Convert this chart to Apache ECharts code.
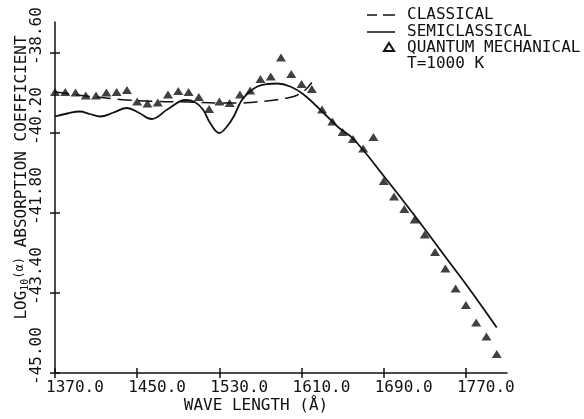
<!DOCTYPE html>
<html>
<head>
<meta charset="utf-8">
<script src="https://cdn.jsdelivr.net/npm/echarts@6/dist/echarts.min.js"></script>
<style>
  html, body { margin: 0; padding: 0; background: #fff; }
  #chart { width: 584px; height: 419px; }
</style>
</head>
<body>
<div id="chart"></div>
<script>
// wave length ticks (Å) and log10 absorption ticks
const xTicks = [1370, 1450, 1530, 1610, 1690, 1770];
const yTicks = [-45.0, -43.4, -41.8, -40.2, -38.6];

// quantum mechanical points, every 10 Å
const qmWave = [1370, 1380, 1390, 1400, 1410, 1420, 1430, 1440, 1450, 1460,
  1470, 1480, 1490, 1500, 1510, 1520, 1530, 1540, 1550, 1560,
  1570, 1580, 1590, 1600, 1610, 1620, 1630, 1640, 1650, 1660,
  1670, 1680, 1690, 1700, 1710, 1720, 1730, 1740, 1750, 1760,
  1770, 1780, 1790, 1800];
const qmValue = [-39.38, -39.38, -39.39, -39.45, -39.45, -39.39, -39.38, -39.34, -39.57, -39.61,
  -39.59, -39.43, -39.36, -39.38, -39.48, -39.72, -39.57, -39.60, -39.43, -39.35,
  -39.12, -39.07, -38.69, -39.02, -39.22, -39.32, -39.73, -39.97, -40.18, -40.32,
  -40.51, -40.28, -41.16, -41.47, -41.72, -41.93, -42.23, -42.58, -42.91, -43.31,
  -43.64, -43.99, -44.27, -44.62];

// semiclassical curve
const semiWave = [1370, 1382, 1394, 1404, 1414, 1427, 1440, 1452, 1464, 1480,
  1497, 1506, 1514, 1521, 1530, 1537, 1544, 1551, 1558, 1567,
  1577, 1586, 1599, 1612, 1631, 1646, 1661, 1690, 1720, 1749, 1772, 1800];
const semiValue = [-39.87, -39.81, -39.77, -39.82, -39.87, -39.79, -39.70, -39.80, -39.92, -39.72,
  -39.54, -39.58, -39.73, -40.00, -40.20, -40.08, -39.87, -39.57, -39.40, -39.27,
  -39.22, -39.21, -39.27, -39.43, -39.79, -40.09, -40.33, -41.06, -41.85, -42.65, -43.28, -44.09];

// classical curve
const classWave = [1370, 1385, 1400, 1420, 1440, 1470, 1500, 1530, 1550, 1565,
  1580, 1596, 1605, 1613, 1620];
const classValue = [-39.38, -39.42, -39.46, -39.50, -39.54, -39.57, -39.58, -39.60, -39.60, -39.58,
  -39.55, -39.50, -39.45, -39.35, -39.19];

const font = 'DejaVu Sans Mono';
const ink = '#111';

const zip = (xs, ys) => xs.map((x, i) => [x, ys[i]]);

const chart = echarts.init(document.getElementById('chart'));

const option = {
  backgroundColor: '#fff',
  animation: false,
  grid: { left: 55, right: 77, top: 22, bottom: 44 },
  xAxis: [
    {
      type: 'value',
      min: 1370,
      max: 1810,
      position: 'bottom',
      name: 'WAVE LENGTH (Å)',
      nameLocation: 'middle',
      nameGap: 25,
      nameMoveOverlap: false,
      nameTextStyle: { fontFamily: font, fontSize: 16, color: ink, padding: [0, 50, 0, 0] },
      axisLine: { lineStyle: { color: ink, width: 1.5 } },
      axisTick: { show: true, length: 5, customValues: xTicks, lineStyle: { color: ink, width: 1.5 } },
      axisLabel: {
        customValues: xTicks,
        formatter: v => v.toFixed(1),
        fontFamily: font, fontSize: 16, color: ink,
        align: 'left', margin: 7, padding: [0, 0, 0, -9]
      },
      splitLine: { show: false }
    },
    {
      // inner half of the crossing ticks
      type: 'value',
      min: 1370,
      max: 1810,
      position: 'bottom',
      axisLine: { show: false },
      axisTick: { show: true, inside: true, length: 5, customValues: xTicks, lineStyle: { color: ink, width: 1.5 } },
      axisLabel: { show: false },
      splitLine: { show: false }
    }
  ],
  yAxis: [
    {
      type: 'value',
      min: -45,
      max: -37.98,
      position: 'left',
      name: 'LOG{sub|10}{a|(α)} ABSORPTION COEFFICIENT',
      nameLocation: 'middle',
      nameRotate: 90,
      nameGap: 25,
      nameMoveOverlap: false,
      nameTextStyle: {
        fontFamily: font, fontSize: 16, color: ink, padding: [0, 0, 0, 40],
        rich: {
          sub: { fontFamily: font, fontSize: 10, color: ink, verticalAlign: 'bottom', padding: [6, 0, 0, 0] },
          a: { fontFamily: font, fontSize: 12, color: ink, padding: [0, 0, 4, 0] }
        }
      },
      axisLine: { show: true, lineStyle: { color: ink, width: 1.5 } },
      axisTick: { show: true, length: 5, customValues: yTicks, lineStyle: { color: ink, width: 1.5 } },
      axisLabel: {
        customValues: yTicks,
        formatter: v => v.toFixed(2),
        rotate: 90,
        fontFamily: font, fontSize: 16, color: ink,
        align: 'left', margin: 10, padding: [0, 0, 0, -12]
      },
      splitLine: { show: false }
    },
    {
      type: 'value',
      min: -45,
      max: -37.98,
      position: 'left',
      axisLine: { show: false },
      axisTick: { show: true, inside: true, length: 5, customValues: yTicks, lineStyle: { color: ink, width: 1.5 } },
      axisLabel: { show: false },
      splitLine: { show: false }
    }
  ],
  series: [
    {
      name: 'CLASSICAL',
      type: 'line',
      data: zip(classWave, classValue),
      smooth: 0.4,
      symbol: 'none',
      lineStyle: { color: ink, width: 1.5, type: [14, 7] }
    },
    {
      name: 'SEMICLASSICAL',
      type: 'line',
      data: zip(semiWave, semiValue),
      smooth: 0.4,
      symbol: 'none',
      lineStyle: { color: ink, width: 1.8 }
    },
    {
      name: 'QUANTUM MECHANICAL',
      type: 'scatter',
      data: zip(qmWave, qmValue),
      symbol: 'triangle',
      symbolSize: [10, 8],
      itemStyle: { color: ink }
    }
  ],
  graphic: [
    // legend drawn by hand to match the plotter key
    { type: 'line', shape: { x1: 367, y1: 15, x2: 377, y2: 15 }, style: { stroke: ink, lineWidth: 1.5 } },
    { type: 'line', shape: { x1: 383, y1: 15, x2: 395, y2: 15 }, style: { stroke: ink, lineWidth: 1.5 } },
    { type: 'line', shape: { x1: 367, y1: 32, x2: 395, y2: 32 }, style: { stroke: ink, lineWidth: 1.5 } },
    { type: 'polygon', shape: { points: [[389, 43], [394, 51], [384, 51]] }, style: { fill: '#fff', stroke: ink, lineWidth: 2 } },
    { type: 'text', left: 407, top: 7, style: { text: 'CLASSICAL', font: '16px ' + font, fill: ink } },
    { type: 'text', left: 407, top: 24, style: { text: 'SEMICLASSICAL', font: '16px ' + font, fill: ink } },
    { type: 'text', left: 407, top: 40, style: { text: 'QUANTUM MECHANICAL', font: '16px ' + font, fill: ink } },
    { type: 'text', left: 407, top: 56, style: { text: 'T=1000 K', font: '16px ' + font, fill: ink } }
  ]
};

chart.setOption(option);
</script>
</body>
</html>
